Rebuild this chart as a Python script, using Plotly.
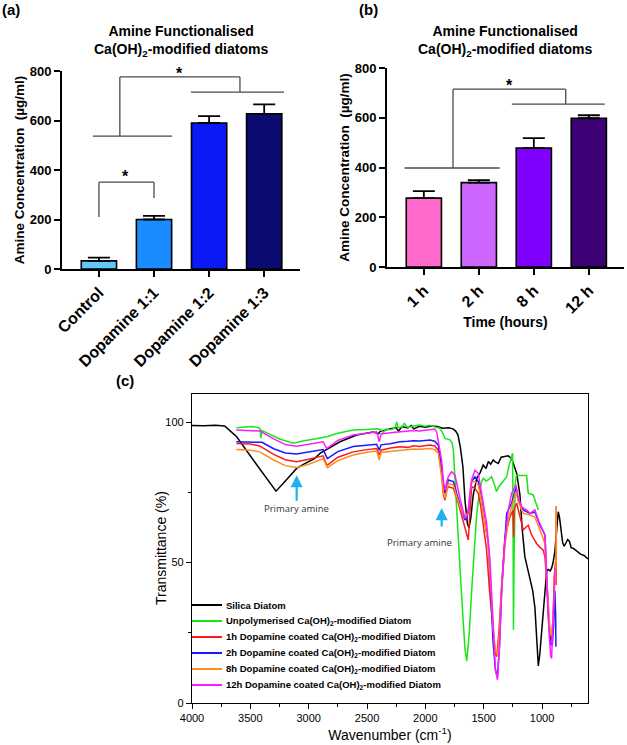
import plotly.graph_objects as go

# ---------------- Panel (a) data ----------------
a_categories = ["Control", "Dopamine 1:1", "Dopamine 1:2", "Dopamine 1:3"]
a_values = [33, 200, 590, 627]
a_errors = [13, 15, 28, 38]
a_colors = ["#62c8f7", "#1a8cff", "#0a1af5", "#0b0b72"]

# ---------------- Panel (b) data ----------------
b_categories = ["1 h", "2 h", "8 h", "12 h"]
b_values = [277, 339, 478, 598]
b_errors = [28, 10, 40, 12]
b_colors = ["#ff69cc", "#cc66ff", "#8000ff", "#3d0075"]

# significance brackets: (left x, right x, top y, left leg end y, right leg end y)
a_brackets = [(0.0, 1.0, 351, 210, 287), (0.38, 2.56, 776, 537, 715)]
a_bracket_bars = [(-0.11, 1.33, 537), (1.67, 3.36, 715)]
a_stars = [(0.49, 372), (1.47, 788)]
b_brackets = [(0.53, 2.58, 715, 398, 655)]
b_bracket_bars = [(-0.35, 1.38, 398), (1.6, 3.29, 655)]
b_stars = [(1.55, 731)]

# ---------------- Panel (c) FTIR spectra ----------------
silica_wn = [4000, 3900, 3800, 3720, 3690, 3617, 3450, 3280, 3200, 3103, 3030, 2974, 2950, 2900,
             2846, 2732, 2589, 2449, 2400, 2389, 2300, 2250, 2230, 2200, 2150, 2120, 2100, 2050,
             2000, 1950, 1900, 1850, 1800, 1763, 1740, 1720, 1700, 1678, 1660, 1640, 1626, 1610,
             1590, 1560, 1530, 1504, 1480, 1460, 1440, 1418, 1400, 1375, 1350, 1318, 1290, 1260,
             1240, 1217, 1189, 1170, 1147, 1120, 1104, 1080, 1061, 1045, 1032, 1020, 1000, 975,
             960, 947, 930, 918, 905, 890, 875, 861, 850, 835, 823, 810, 795, 780, 765, 750, 730,
             700, 670, 640, 606]
silica_t = [98.8, 98.7, 98.9, 98.6, 97.5, 94.8, 85.1, 75.4, 79.0, 83.5, 85.3, 86.5, 87.0, 89.0,
            90.3, 93.0, 95.4, 96.5, 95.9, 96.6, 97.6, 98.0, 96.8, 98.4, 97.9, 98.8, 97.6, 98.5,
            98.2, 98.6, 98.4, 97.8, 98.0, 97.6, 96.8, 95.4, 91.0, 84.0, 72.0, 64.0, 62.3, 66.0,
            74.0, 80.0, 82.0, 84.7, 83.5, 86.0, 85.0, 86.5, 85.8, 85.3, 87.5, 87.9, 88.0, 87.0,
            84.5, 81.7, 74.0, 62.0, 52.0, 47.0, 45.0, 40.0, 34.0, 22.0, 13.2, 17.0, 27.0, 40.0,
            47.0, 47.5, 47.0, 48.0, 50.0, 54.0, 62.0, 68.1, 66.0, 60.0, 57.0, 55.8, 57.0, 58.2,
            57.5, 55.3, 55.0, 54.0, 53.0, 52.5, 51.3]

unpol_wn = [3620, 3550, 3480, 3430, 3415, 3410, 3400, 3350, 3250, 3132, 3050, 2950, 2846, 2750,
            2618, 2500, 2417, 2380, 2360, 2340, 2300, 2260, 2246, 2235, 2200, 2180, 2150, 2100,
            2050, 2000, 1961, 1920, 1875, 1850, 1832, 1789, 1770, 1760, 1745, 1732, 1715, 1703,
            1680, 1660, 1645, 1625, 1600, 1575, 1560, 1540, 1517, 1503, 1480, 1461, 1433, 1410,
            1390, 1370, 1346, 1320, 1303, 1280, 1261, 1252, 1248, 1245, 1240, 1230, 1220, 1203,
            1160, 1132, 1118, 1100, 1075, 1050, 1032]
unpol_t = [98.0, 98.2, 98.4, 98.0, 97.6, 94.3, 97.0, 96.0, 94.0, 92.5, 93.3, 94.0, 94.8, 96.0,
           97.2, 97.4, 97.6, 97.3, 96.2, 97.5, 97.3, 97.8, 100.1, 98.0, 98.3, 99.5, 98.0, 98.6,
           99.0, 98.5, 98.9, 98.3, 97.8, 96.0, 94.2, 93.7, 92.5, 90.0, 80.0, 68.7, 57.0, 48.0,
           32.0, 19.0, 15.0, 24.0, 42.0, 58.0, 67.0, 74.0, 78.8, 80.0, 79.0, 79.4, 80.6, 78.0,
           75.3, 77.0, 78.3, 79.5, 80.6, 85.0, 88.3, 88.9, 60.0, 26.0, 50.0, 78.0, 81.0, 81.0,
           81.0, 81.0, 74.6, 74.5, 74.0, 71.0, 68.7]

h1_wn = [3620, 3500, 3420, 3300, 3200, 3103, 3000, 2876, 2846, 2830, 2750, 2618, 2500, 2417, 2395,
         2380, 2300, 2218, 2150, 2100, 2050, 1960, 1920, 1889, 1861, 1845, 1832, 1815, 1803, 1760,
         1730, 1703, 1675, 1647, 1632, 1615, 1603, 1575, 1546, 1525, 1504, 1475, 1450, 1420, 1400,
         1389, 1370, 1346, 1318, 1290, 1275, 1250, 1243, 1240, 1232, 1217, 1196, 1161, 1140, 1118,
         1089, 1047, 1020, 990, 975, 960, 945, 930, 918, 905, 895, 885, 880, 878]
h1_t = [92.4, 92.2, 91.5, 88.5, 86.6, 85.9, 86.8, 88.0, 84.7, 85.0, 87.5, 89.4, 90.2, 90.6, 88.3,
        90.0, 90.8, 91.2, 91.0, 91.6, 91.3, 91.8, 91.5, 90.0, 81.7, 74.0, 72.2, 76.0, 77.0, 76.4,
        73.0, 68.7, 64.0, 60.3, 58.0, 70.0, 77.0, 76.4, 74.6, 70.0, 64.0, 54.4, 40.0, 25.0, 17.5,
        16.5, 25.0, 42.0, 59.2, 64.0, 66.2, 68.5, 59.0, 68.0, 69.8, 71.1, 67.5, 61.6, 62.5, 63.3,
        59.8, 56.8, 55.5, 54.4, 52.0, 43.0, 30.0, 23.0, 22.4, 30.0, 45.0, 50.0, 42.0, 70.0]

h2_wn = [3620, 3500, 3400, 3300, 3200, 3103, 3000, 2876, 2840, 2832, 2750, 2618, 2500, 2417, 2395,
         2380, 2300, 2218, 2150, 2100, 2050, 1960, 1920, 1889, 1861, 1845, 1832, 1815, 1803, 1760,
         1730, 1703, 1661, 1645, 1632, 1615, 1603, 1575, 1546, 1525, 1504, 1461, 1440, 1420, 1400,
         1382, 1365, 1346, 1318, 1303, 1261, 1224, 1204, 1161, 1103, 1061, 1018, 990, 975, 960,
         940, 925, 912, 900, 890, 883, 881]
h2_t = [93.0, 92.9, 92.8, 90.5, 89.0, 88.6, 89.3, 90.2, 87.0, 87.2, 89.5, 91.3, 91.8, 92.1, 90.0,
        91.9, 92.3, 93.0, 93.2, 93.4, 93.3, 93.6, 93.2, 91.8, 84.1, 77.0, 74.6, 78.0, 79.4, 78.8,
        74.0, 70.5, 65.1, 66.0, 68.0, 76.0, 78.8, 80.5, 78.8, 74.0, 68.7, 56.8, 40.0, 22.0, 12.0,
        9.4, 20.0, 40.0, 58.0, 67.5, 71.1, 76.4, 72.2, 68.7, 67.5, 68.0, 63.3, 61.0, 59.8, 45.0,
        28.0, 21.0, 20.5, 28.0, 40.0, 31.0, 20.0]

h8_wn = [3620, 3500, 3420, 3300, 3200, 3103, 3000, 2876, 2840, 2832, 2750, 2618, 2500, 2417, 2395,
         2380, 2300, 2218, 2150, 2100, 2050, 1960, 1920, 1889, 1861, 1845, 1832, 1815, 1803, 1760,
         1730, 1703, 1661, 1645, 1632, 1615, 1603, 1575, 1546, 1525, 1504, 1461, 1440, 1420, 1400,
         1382, 1365, 1346, 1318, 1289, 1261, 1224, 1204, 1161, 1103, 1061, 1018, 990, 975, 960,
         945, 930, 920, 905, 892, 885, 880, 878, 877]
h8_t = [90.2, 90.0, 89.4, 86.5, 84.5, 83.8, 85.0, 87.0, 83.8, 84.0, 86.3, 88.3, 89.3, 89.7, 86.5,
        89.2, 89.6, 90.0, 90.2, 90.4, 90.3, 90.6, 90.2, 88.9, 80.6, 75.0, 72.8, 76.5, 78.2, 77.6,
        73.0, 69.8, 66.2, 67.0, 68.7, 76.0, 78.8, 78.8, 77.6, 73.0, 67.5, 56.8, 42.0, 27.0, 18.5,
        17.1, 25.0, 42.0, 56.0, 65.1, 69.8, 75.3, 71.7, 67.5, 66.9, 66.2, 61.6, 58.5, 56.8, 44.0,
        32.0, 25.0, 24.0, 30.0, 42.0, 46.0, 50.0, 70.0, 55.0]

h12_wn = [3620, 3500, 3417, 3300, 3200, 3103, 3000, 2876, 2846, 2830, 2750, 2618, 2500, 2417, 2395,
          2380, 2300, 2218, 2150, 2100, 2050, 1960, 1920, 1903, 1889, 1861, 1845, 1832, 1815, 1803,
          1775, 1746, 1703, 1675, 1661, 1645, 1632, 1615, 1603, 1575, 1546, 1518, 1475, 1446, 1420,
          1400, 1382, 1365, 1346, 1318, 1289, 1261, 1224, 1204, 1175, 1132, 1103, 1061, 1032, 1000,
          975, 960, 940, 925, 918, 905, 895, 890]
h12_t = [97.2, 97.0, 96.8, 94.0, 92.0, 91.4, 92.2, 93.0, 90.6, 91.0, 93.5, 95.4, 96.0, 96.5, 93.0,
         95.8, 96.2, 96.5, 96.8, 97.0, 96.8, 97.2, 97.5, 96.5, 93.0, 86.5, 79.0, 75.8, 79.0, 80.5,
         82.3, 81.1, 72.8, 68.7, 65.7, 66.5, 68.7, 76.0, 79.4, 82.9, 81.7, 74.6, 64.0, 51.0, 30.0,
         12.0, 8.2, 20.0, 40.0, 58.0, 68.7, 74.6, 77.6, 73.4, 69.8, 68.7, 67.5, 68.7, 65.1, 62.0,
         59.8, 45.0, 25.0, 16.5, 15.9, 30.0, 45.0, 48.0]

spectra_names = ["Silica Diatom",
                 "Unpolymerised Ca(OH)<sub>2</sub>-modified Diatom",
                 "1h Dopamine coated Ca(OH)<sub>2</sub>-modified Diatom",
                 "2h Dopamine coated Ca(OH)<sub>2</sub>-modified Diatom",
                 "8h Dopamine coated Ca(OH)<sub>2</sub>-modified Diatom",
                 "12h Dopamine coated Ca(OH)<sub>2</sub>-modified Diatom"]
spectra_colors = ["#000000", "#19e619", "#ff1a1a", "#1a1aff", "#ff8c1a", "#ff1aff"]
spectra_x = [silica_wn, unpol_wn, h1_wn, h2_wn, h8_wn, h12_wn]
spectra_y = [silica_t, unpol_t, h1_t, h2_t, h8_t, h12_t]

# annotation arrows: (wavenumber, tip T, tail T, label x, label T)
amine_arrows = [(3103, 81.1, 71.5, 3103, 69.4), (1860, 69.4, 62.3, 2046, 57.3)]

FONT = "Arial, Liberation Sans, sans-serif"
W, H = 627, 745

fig = go.Figure()

fig.add_trace(go.Bar(
    x=list(range(len(a_categories))), y=a_values, width=0.64,
    marker=dict(color=a_colors, line=dict(color="black", width=1.6)),
    error_y=dict(type="data", symmetric=False, array=a_errors, arrayminus=[0] * 4,
                 color="black", thickness=1.8, width=11),
    xaxis="x", yaxis="y", showlegend=False))

fig.add_trace(go.Bar(
    x=list(range(len(b_categories))), y=b_values, width=0.64,
    marker=dict(color=b_colors, line=dict(color="black", width=1.6)),
    error_y=dict(type="data", symmetric=False, array=b_errors, arrayminus=[0] * 4,
                 color="black", thickness=1.8, width=11),
    xaxis="x2", yaxis="y2", showlegend=False))

for name, col, xs, ys in zip(spectra_names, spectra_colors, spectra_x, spectra_y):
    fig.add_trace(go.Scatter(x=xs, y=ys, mode="lines", name=name,
                             line=dict(color=col, width=1.5),
                             xaxis="x3", yaxis="y3", showlegend=False))

shapes = []
annotations = []
BR = dict(color="#4a4a4a", width=1.3)


def add_brackets(xr, yr, brackets, bars, stars):
    for x0, x1, yt, yl, yrr in brackets:
        shapes.append(dict(type="line", xref=xr, yref=yr, x0=x0, x1=x1, y0=yt, y1=yt, line=BR))
        shapes.append(dict(type="line", xref=xr, yref=yr, x0=x0, x1=x0, y0=yt, y1=yl, line=BR))
        shapes.append(dict(type="line", xref=xr, yref=yr, x0=x1, x1=x1, y0=yt, y1=yrr, line=BR))
    for x0, x1, yy in bars:
        shapes.append(dict(type="line", xref=xr, yref=yr, x0=x0, x1=x1, y0=yy, y1=yy, line=BR))
    for sx, sy in stars:
        annotations.append(dict(xref=xr, yref=yr, x=sx, y=sy, text="<b>*</b>", showarrow=False,
                                xanchor="center", yanchor="middle",
                                font=dict(size=16, color="black", family=FONT)))


add_brackets("x", "y", a_brackets, a_bracket_bars, a_stars)
add_brackets("x2", "y2", b_brackets, b_bracket_bars, b_stars)

title_txt = "<b>Amine Functionalised<br>Ca(OH)<sub>2</sub>-modified diatoms</b>"
for cx in (181, 505):
    annotations.append(dict(xref="paper", yref="paper", x=cx / W, y=1 - 41 / H, text=title_txt,
                            xanchor="center", yanchor="middle", showarrow=False,
                            font=dict(size=14, family=FONT, color="black")))
for lab, px, py in [("(a)", 0, 10), ("(b)", 357, 10), ("(c)", 114, 380)]:
    annotations.append(dict(xref="paper", yref="paper", x=px / W, y=1 - py / H, text="<b>%s</b>" % lab,
                            xanchor="left", yanchor="middle", showarrow=False,
                            font=dict(size=15, family=FONT, color="black")))

for wn, tip, tail, lx, ly in amine_arrows:
    annotations.append(dict(xref="x3", yref="y3", axref="x3", ayref="y3", x=wn, y=tip, ax=wn, ay=tail,
                            text="", showarrow=True, arrowhead=2, arrowsize=1.1, arrowwidth=2.2,
                            arrowcolor="#1fb1ee"))
    annotations.append(dict(xref="x3", yref="y3", x=lx, y=ly, text="Primary amine", showarrow=False,
                            xanchor="center", yanchor="middle",
                            font=dict(size=9.5, family="Open Sans, Arial", color="#333333")))

# y-axis title of panel (c), placed next to the tick labels
annotations.append(dict(xref="paper", yref="paper", x=161 / W, y=1 - 548 / H, text="Transmittance (%)",
                        textangle=-90, xanchor="center", yanchor="middle", showarrow=False,
                        font=dict(size=14, family=FONT, color="black")))

# manual legend for panel (c)
for i, (name, col) in enumerate(zip(spectra_names, spectra_colors)):
    py = 605 + 16 * i
    shapes.append(dict(type="line", xref="paper", yref="paper", x0=192 / W, x1=222 / W,
                       y0=1 - py / H, y1=1 - py / H, line=dict(color=col, width=2)))
    annotations.append(dict(xref="paper", yref="paper", x=224 / W, y=1 - py / H, text="<b>%s</b>" % name,
                            xanchor="left", yanchor="middle", showarrow=False,
                            font=dict(size=9.5, family=FONT, color="black")))

bar_x = dict(showline=True, linecolor="black", linewidth=2, ticks="outside", ticklen=6, tickwidth=2,
             tickcolor="black", tickangle=-45, showgrid=False, zeroline=False, automargin=False,
             tickfont=dict(size=16, family=FONT, color="black", weight="bold"))
bar_y = dict(showline=True, linecolor="black", linewidth=2, ticks="outside", ticklen=6, tickwidth=2,
             tickcolor="black", range=[0, 800], dtick=200, showgrid=False, zeroline=False,
             automargin=False,
             tickfont=dict(size=13, family=FONT, color="black", weight="bold"),
             title=dict(text="<b>Amine Concentration  (µg/ml)</b>", standoff=2,
                        font=dict(size=13.5, family=FONT, color="black")))

fig.update_layout(
    width=W, height=H, margin=dict(l=0, r=0, t=0, b=0, autoexpand=False),
    paper_bgcolor="white", plot_bgcolor="white", showlegend=False,
    font=dict(family=FONT, color="black"),
    xaxis=dict(bar_x, domain=[62 / W, 300 / W], range=[-0.67, 3.65],
               tickvals=list(range(4)), ticktext=a_categories, anchor="y"),
    yaxis=dict(bar_y, domain=[1 - 269 / H, 1 - 71 / H], anchor="x"),
    xaxis2=dict(bar_x, domain=[387 / W, 624 / W], range=[-0.67, 3.64],
                tickvals=list(range(4)), ticktext=b_categories, anchor="y2",
                title=dict(text="<b>Time (hours)</b>", standoff=2,
                           font=dict(size=14, family=FONT, color="black"))),
    yaxis2=dict(bar_y, domain=[1 - 267 / H, 1 - 68 / H], anchor="x2"),
    xaxis3=dict(domain=[192 / W, 588 / W], range=[4000, 606], anchor="y3", dtick=500, tick0=0,
                showline=True, mirror=True, linecolor="black", linewidth=1.3, ticks="outside",
                ticklen=5, tickwidth=1.2, tickcolor="black", showgrid=False, zeroline=False,
                automargin=False,
                minor=dict(dtick=250, ticks="outside", ticklen=3, tickwidth=1.2, tickcolor="black"),
                tickfont=dict(size=11, family=FONT, color="black"),
                title=dict(text="Wavenumber (cm<sup>-1</sup>)", standoff=6,
                           font=dict(size=14, family=FONT, color="black"))),
    yaxis3=dict(domain=[1 - 703 / H, 1 - 394 / H], range=[0, 110], anchor="x3", dtick=50, tick0=0,
                showline=True, mirror=True, linecolor="black", linewidth=1.3, ticks="outside",
                ticklen=5, tickwidth=1.2, tickcolor="black", showgrid=False, zeroline=False,
                automargin=False,
                minor=dict(dtick=25, ticks="outside", ticklen=3, tickwidth=1.2, tickcolor="black"),
                tickfont=dict(size=11, family=FONT, color="black")),
    shapes=shapes, annotations=annotations,
)

fig.write_html("out.html")
